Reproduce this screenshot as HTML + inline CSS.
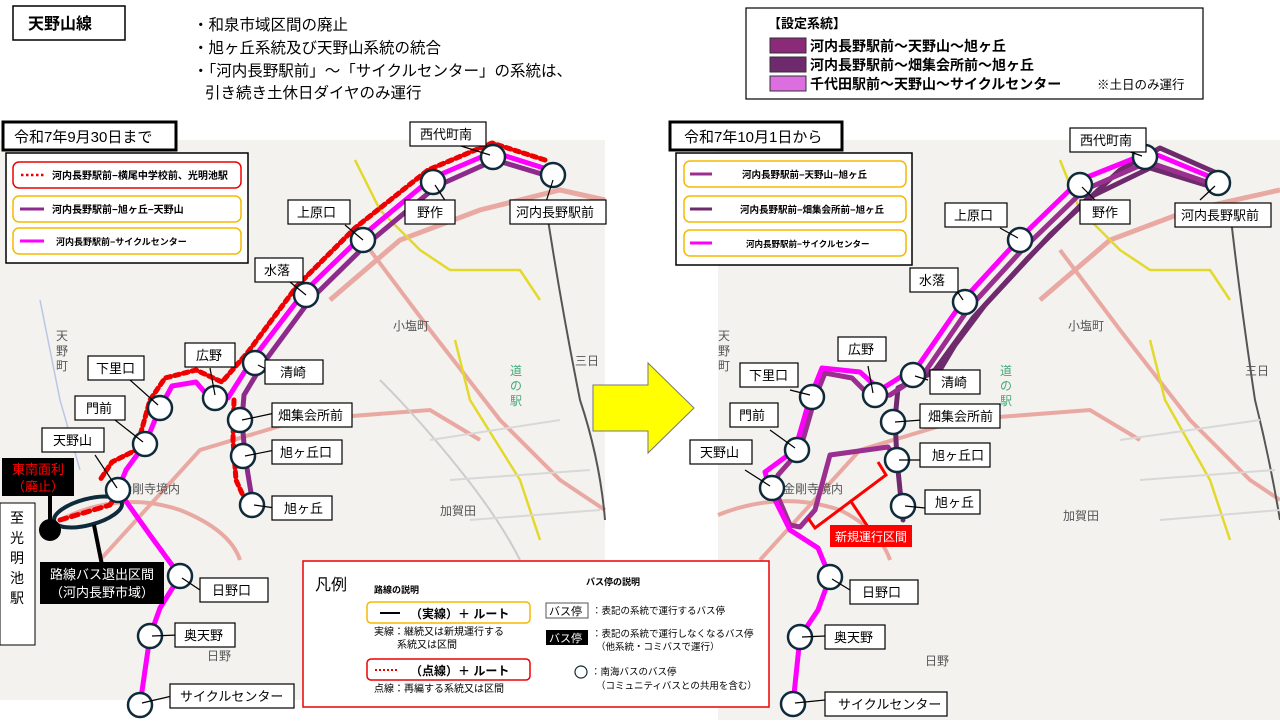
<!DOCTYPE html>
<html><head><meta charset="utf-8"><style>
body{margin:0;width:1280px;height:720px;background:#fff;overflow:hidden;font-family:"Liberation Sans","Noto Sans CJK JP",sans-serif;}
svg text{font-family:"Liberation Sans","Noto Sans CJK JP",sans-serif;}
</style></head><body>
<svg width="1280" height="720" viewBox="0 0 1280 720" xmlns="http://www.w3.org/2000/svg">
<defs>
<g id="stop"><circle r="12" fill="#fff" stroke="#0f2a3a" stroke-width="2.5"/></g>
</defs>
<rect x="0" y="140" width="605" height="560" fill="#f3f2ef"/>
<rect x="718" y="140" width="562" height="580" fill="#f3f2ef"/>
<g fill="none">
<path d="M330 300 L400 240 L480 210 L560 190 L605 200" stroke="#e9a9a2" stroke-width="5"/>
<path d="M370 250 L430 330 L500 420 L560 480 L605 510" stroke="#e9a9a2" stroke-width="4"/>
<path d="M100 560 L200 450 L300 420 L430 410 L480 440" stroke="#e9a9a2" stroke-width="4"/>
<path d="M60 520 Q120 490 180 510 Q230 530 240 560" stroke="#e9a9a2" stroke-width="4"/>
<path d="M355 160 L380 210 L420 250 L450 270 L520 270 L540 300" stroke="#e3d92a" stroke-width="2.5"/>
<path d="M455 340 L470 400 L520 480 L540 540" stroke="#e3d92a" stroke-width="2.5"/>
<path d="M545 200 Q560 300 580 400 Q600 460 605 520" stroke="#555" stroke-width="2"/>
<path d="M40 300 L60 400 L80 470" stroke="#b9c7e6" stroke-width="1.5"/>
<path d="M380 380 Q420 420 460 470 Q500 520 520 560" stroke="#ccc" stroke-width="2"/>
<path d="M430 440 L560 420 M450 480 L590 470 M470 520 L600 510" stroke="#d8d8d8" stroke-width="2"/>
</g>
<text x="393" y="330" font-size="12" fill="#555">小塩町</text>
<text x="440" y="515" font-size="12" fill="#555">加賀田</text>
<text x="207" y="660" font-size="12" fill="#555">日野</text>
<text x="120" y="493" font-size="12" fill="#555">金剛寺境内</text>
<text x="56" y="340" font-size="12" fill="#555">天</text><text x="56" y="355" font-size="12" fill="#555">野</text><text x="56" y="370" font-size="12" fill="#555">町</text>
<text x="510" y="375" font-size="12" fill="#4a7">道</text><text x="510" y="390" font-size="12" fill="#4a7">の</text><text x="510" y="405" font-size="12" fill="#4a7">駅</text>
<text x="575" y="365" font-size="12" fill="#555">三日</text>
<g fill="none" stroke-linejoin="round" stroke-linecap="round">
<path d="M555 178 L495 160 L437 186 L367 244 L310 300 L262 365 L244 395 L242 420 L245 456 L253 505" stroke="#8e2a8c" stroke-width="5"/>
<path d="M550 170 L493 152 L432 178 L362 236 L304 292 L252 360 L228 398 L213 402 L196 382 L172 386 L160 408 L145 444 L126 470 L118 490 L150 535 L180 576 L160 608 L150 636 L140 705" stroke="#ff00ff" stroke-width="5"/>
<path d="M545 160 L492 143 L428 170 L355 228 L297 286 L248 352 L222 382 L196 370 L165 378 L150 400 L136 450 L112 462 L100 480" stroke="#e00" stroke-width="5" stroke-dasharray="5 4"/>
<path d="M234 400 L233 440 L236 480 L245 500" stroke="#e00" stroke-width="5" stroke-dasharray="5 4"/>
<path d="M60 520 L110 505 L118 492" stroke="#e00" stroke-width="5" stroke-dasharray="7 5"/>
</g>
<ellipse cx="88" cy="512" rx="35" ry="13" transform="rotate(-15 88 512)" fill="none" stroke="#0f2a3a" stroke-width="4"/>
<line x1="94" y1="525" x2="102" y2="565" stroke="#000" stroke-width="4"/>
<line x1="50" y1="530" x2="50" y2="495" stroke="#000" stroke-width="4"/>
<circle cx="50" cy="530" r="11" fill="#000"/>
<g>
<use href="#stop" x="493" y="157"/><use href="#stop" x="433" y="182"/><use href="#stop" x="553" y="175"/>
<use href="#stop" x="363" y="240"/><use href="#stop" x="306" y="295"/><use href="#stop" x="255" y="363"/>
<use href="#stop" x="215" y="398"/><use href="#stop" x="160" y="408"/><use href="#stop" x="145" y="444"/>
<use href="#stop" x="118" y="490"/><use href="#stop" x="240" y="420"/><use href="#stop" x="243" y="456"/>
<use href="#stop" x="252" y="505"/><use href="#stop" x="180" y="576"/><use href="#stop" x="150" y="636"/>
<use href="#stop" x="140" y="705"/>
</g>
<g font-size="13" fill="#000" stroke-width="1.2">
<g stroke="#000"><line x1="448" y1="142" x2="490" y2="155"/><line x1="448" y1="205" x2="435" y2="185"/><line x1="545" y1="205" x2="553" y2="180"/><line x1="345" y1="225" x2="363" y2="240"/><line x1="290" y1="282" x2="306" y2="295"/><line x1="268" y1="370" x2="258" y2="365"/><line x1="210" y1="368" x2="215" y2="395"/><line x1="130" y1="380" x2="158" y2="405"/><line x1="115" y1="420" x2="143" y2="442"/><line x1="95" y1="455" x2="117" y2="488"/><line x1="275" y1="413" x2="242" y2="420"/><line x1="275" y1="450" x2="245" y2="456"/><line x1="275" y1="508" x2="254" y2="505"/><line x1="200" y1="590" x2="182" y2="578"/><line x1="178" y1="635" x2="152" y2="636"/><line x1="172" y1="696" x2="142" y2="703"/></g>
<rect x="410" y="122" width="76" height="24" fill="#fff" stroke="#000"/><text x="420" y="139">西代町南</text>
<rect x="405" y="200" width="50" height="24" fill="#fff" stroke="#000"/><text x="417" y="217">野作</text>
<rect x="510" y="200" width="96" height="24" fill="#fff" stroke="#000"/><text x="516" y="217">河内長野駅前</text>
<rect x="288" y="200" width="62" height="24" fill="#fff" stroke="#000"/><text x="297" y="217">上原口</text>
<rect x="255" y="258" width="48" height="24" fill="#fff" stroke="#000"/><text x="264" y="275">水落</text>
<rect x="265" y="360" width="58" height="24" fill="#fff" stroke="#000"/><text x="280" y="377">清崎</text>
<rect x="185" y="343" width="50" height="24" fill="#fff" stroke="#000"/><text x="196" y="360">広野</text>
<rect x="88" y="356" width="56" height="24" fill="#fff" stroke="#000"/><text x="96" y="373">下里口</text>
<rect x="75" y="396" width="50" height="24" fill="#fff" stroke="#000"/><text x="86" y="413">門前</text>
<rect x="42" y="428" width="62" height="24" fill="#fff" stroke="#000"/><text x="53" y="445">天野山</text>
<rect x="272" y="403" width="80" height="24" fill="#fff" stroke="#000"/><text x="278" y="420">畑集会所前</text>
<rect x="272" y="440" width="70" height="24" fill="#fff" stroke="#000"/><text x="280" y="457">旭ヶ丘口</text>
<rect x="272" y="496" width="60" height="24" fill="#fff" stroke="#000"/><text x="284" y="513">旭ヶ丘</text>
<rect x="200" y="578" width="68" height="24" fill="#fff" stroke="#000"/><text x="212" y="595">日野口</text>
<rect x="175" y="623" width="60" height="24" fill="#fff" stroke="#000"/><text x="184" y="640">奥天野</text>
<rect x="170" y="684" width="124" height="24" fill="#fff" stroke="#000"/><text x="180" y="701">サイクルセンター</text>
</g>
<rect x="2" y="458" width="72" height="38" fill="#000"/>
<text x="38" y="474" font-size="13" fill="#f00" text-anchor="middle">東南面利</text>
<text x="38" y="491" font-size="13" fill="#f00" text-anchor="middle">（廃止）</text>
<rect x="0" y="503" width="35" height="142" fill="#fff" stroke="#000"/>
<g font-size="14" fill="#000" text-anchor="middle"><text x="17" y="523">至</text><text x="17" y="543">光</text><text x="17" y="563">明</text><text x="17" y="583">池</text><text x="17" y="603">駅</text></g>
<rect x="40" y="562" width="124" height="42" fill="#000"/>
<text x="102" y="579" font-size="13" fill="#fff" text-anchor="middle">路線バス退出区間</text>
<text x="102" y="597" font-size="13" fill="#fff" text-anchor="middle">（河内長野市域）</text>
<rect x="3" y="122" width="173" height="28" fill="#fff" stroke="#000" stroke-width="3"/>
<text x="14" y="142" font-size="15">令和7年9月30日まで</text>
<rect x="6" y="153" width="242" height="110" fill="#fff" stroke="#000" stroke-width="1.5"/>
<rect x="13" y="162" width="228" height="26" rx="6" fill="#fff" stroke="#e00" stroke-width="1.5"/>
<line x1="21" y1="175" x2="44" y2="175" stroke="#e00" stroke-width="2.5" stroke-dasharray="2.5 2.5"/>
<text x="52" y="179" font-size="10" font-weight="bold">河内長野駅前−横尾中学校前、光明池駅</text>
<rect x="13" y="196" width="228" height="26" rx="6" fill="#fff" stroke="#f5b800" stroke-width="1.5"/>
<line x1="20" y1="209" x2="44" y2="209" stroke="#8e2a8c" stroke-width="3"/>
<text x="52" y="213" font-size="10" font-weight="bold">河内長野駅前−旭ヶ丘−天野山</text>
<rect x="13" y="228" width="228" height="26" rx="6" fill="#fff" stroke="#f5b800" stroke-width="1.5"/>
<line x1="20" y1="241" x2="44" y2="241" stroke="#ff00ff" stroke-width="3"/>
<text x="56" y="245" font-size="9" font-weight="bold">河内長野駅前−サイクルセンター</text>
<g fill="none">
<path d="M1040 300 L1110 240 L1190 210 L1280 190" stroke="#e9a9a2" stroke-width="5"/>
<path d="M1060 250 L1120 330 L1190 420 L1250 480 L1280 500" stroke="#e9a9a2" stroke-width="4"/>
<path d="M760 560 L860 450 L960 420 L1090 410 L1140 440" stroke="#e9a9a2" stroke-width="4"/>
<path d="M718 515 Q780 490 840 510 Q880 530 890 560" stroke="#e9a9a2" stroke-width="4"/>
<path d="M1060 160 L1080 210 L1120 250 L1150 270 L1210 270 L1230 300" stroke="#e3d92a" stroke-width="2.5"/>
<path d="M1150 340 L1165 400 L1210 480 L1230 540" stroke="#e3d92a" stroke-width="2.5"/>
<path d="M1230 210 Q1240 300 1255 400 Q1270 460 1280 520" stroke="#555" stroke-width="2"/>
<path d="M1120 440 L1260 420 M1140 480 L1275 470 M1160 520 L1280 510" stroke="#d8d8d8" stroke-width="2"/>
</g>
<text x="1068" y="330" font-size="12" fill="#555">小塩町</text>
<text x="1063" y="520" font-size="12" fill="#555">加賀田</text>
<text x="925" y="665" font-size="12" fill="#555">日野</text>
<text x="783" y="493" font-size="12" fill="#555">金剛寺境内</text>
<text x="718" y="340" font-size="12" fill="#555">天</text><text x="718" y="355" font-size="12" fill="#555">野</text><text x="718" y="370" font-size="12" fill="#555">町</text>
<text x="1000" y="375" font-size="12" fill="#4a7">道</text><text x="1000" y="390" font-size="12" fill="#4a7">の</text><text x="1000" y="405" font-size="12" fill="#4a7">駅</text>
<text x="1245" y="375" font-size="12" fill="#555">三日</text>
<g fill="none" stroke-linejoin="round" stroke-linecap="round">
<path d="M1222 190 L1150 168 L1088 198 L1028 258 L973 318 L935 370 L898 388 L895 420 L897 460 L903 520" stroke="#6e2a6c" stroke-width="5"/>
<path d="M1228 178 L1160 148 L1120 170 L1050 235 L985 305 L955 345 L940 370 L920 378" stroke="#6e2a6c" stroke-width="5"/>
<path d="M1218 186 L1148 162 L1084 190 L1024 248 L969 308 L925 372 L890 395 L872 398 L852 378 L825 373 L815 398 L800 450 L778 475 L775 490 L790 525 L800 527 L815 510 L830 455 L888 447 L897 460" stroke="#9b2f8f" stroke-width="5"/>
<path d="M1218 180 L1150 152 L1080 180 L1020 238 L965 298 L918 366 L880 390 L860 372 L822 368 L810 398 L795 450 L765 472 L770 490 L790 530 L818 548 L830 577 L818 610 L800 637 L793 704" stroke="#ff00ff" stroke-width="5"/>
</g>
<g fill="none" stroke="#f00" stroke-width="3"><path d="M878 462 L886 475 L815 528 L808 518"/><line x1="850" y1="500" x2="870" y2="530"/></g>
<rect x="830" y="525" width="82" height="22" fill="#f00"/>
<text x="871" y="541" font-size="12" fill="#fff" text-anchor="middle">新規運行区間</text>
<g>
<use href="#stop" x="1145" y="157"/><use href="#stop" x="1080" y="185"/><use href="#stop" x="1218" y="183"/>
<use href="#stop" x="1020" y="240"/><use href="#stop" x="965" y="302"/><use href="#stop" x="913" y="375"/>
<use href="#stop" x="875" y="395"/><use href="#stop" x="812" y="397"/><use href="#stop" x="797" y="450"/>
<use href="#stop" x="772" y="488"/><use href="#stop" x="893" y="422"/><use href="#stop" x="897" y="460"/>
<use href="#stop" x="903" y="506"/><use href="#stop" x="830" y="577"/><use href="#stop" x="800" y="637"/>
<use href="#stop" x="793" y="704"/>
</g>
<g font-size="13" fill="#000" stroke-width="1.2">
<g stroke="#000"><line x1="1110" y1="145" x2="1142" y2="156"/><line x1="1095" y1="200" x2="1082" y2="187"/><line x1="1200" y1="200" x2="1215" y2="186"/><line x1="1000" y1="228" x2="1018" y2="238"/><line x1="955" y1="288" x2="963" y2="300"/><line x1="928" y1="380" x2="915" y2="376"/><line x1="868" y1="366" x2="873" y2="393"/><line x1="790" y1="390" x2="810" y2="395"/><line x1="770" y1="430" x2="795" y2="448"/><line x1="745" y1="470" x2="770" y2="486"/><line x1="922" y1="420" x2="895" y2="422"/><line x1="922" y1="460" x2="899" y2="460"/><line x1="925" y1="508" x2="905" y2="506"/><line x1="850" y1="590" x2="832" y2="579"/><line x1="825" y1="636" x2="802" y2="637"/><line x1="825" y1="700" x2="795" y2="703"/></g>
<rect x="1070" y="128" width="76" height="24" fill="#fff" stroke="#000"/><text x="1080" y="145">西代町南</text>
<rect x="1080" y="200" width="50" height="24" fill="#fff" stroke="#000"/><text x="1092" y="217">野作</text>
<rect x="1175" y="203" width="96" height="24" fill="#fff" stroke="#000"/><text x="1181" y="220">河内長野駅前</text>
<rect x="945" y="203" width="62" height="24" fill="#fff" stroke="#000"/><text x="954" y="220">上原口</text>
<rect x="910" y="268" width="48" height="24" fill="#fff" stroke="#000"/><text x="919" y="285">水落</text>
<rect x="930" y="370" width="50" height="24" fill="#fff" stroke="#000"/><text x="941" y="387">清崎</text>
<rect x="838" y="337" width="48" height="24" fill="#fff" stroke="#000"/><text x="848" y="354">広野</text>
<rect x="740" y="363" width="58" height="24" fill="#fff" stroke="#000"/><text x="749" y="380">下里口</text>
<rect x="730" y="403" width="48" height="24" fill="#fff" stroke="#000"/><text x="739" y="420">門前</text>
<rect x="690" y="440" width="62" height="24" fill="#fff" stroke="#000"/><text x="700" y="457">天野山</text>
<rect x="920" y="404" width="80" height="24" fill="#fff" stroke="#000"/><text x="928" y="421">畑集会所前</text>
<rect x="920" y="443" width="70" height="24" fill="#fff" stroke="#000"/><text x="932" y="460">旭ヶ丘口</text>
<rect x="925" y="490" width="55" height="24" fill="#fff" stroke="#000"/><text x="935" y="507">旭ヶ丘</text>
<rect x="850" y="580" width="68" height="24" fill="#fff" stroke="#000"/><text x="862" y="597">日野口</text>
<rect x="825" y="625" width="60" height="24" fill="#fff" stroke="#000"/><text x="834" y="642">奥天野</text>
<rect x="825" y="692" width="122" height="24" fill="#fff" stroke="#000"/><text x="838" y="709">サイクルセンター</text>
</g>
<rect x="670" y="122" width="172" height="28" fill="#fff" stroke="#000" stroke-width="3"/>
<text x="684" y="142" font-size="15">令和7年10月1日から</text>
<rect x="676" y="153" width="236" height="112" fill="#fff" stroke="#000" stroke-width="1.5"/>
<rect x="684" y="161" width="222" height="26" rx="6" fill="#fff" stroke="#f5b800" stroke-width="1.5"/>
<line x1="690" y1="174" x2="712" y2="174" stroke="#9b2f8f" stroke-width="3"/>
<text x="742" y="178" font-size="9.5" font-weight="bold">河内長野駅前−天野山−旭ヶ丘</text>
<rect x="684" y="196" width="222" height="26" rx="6" fill="#fff" stroke="#f5b800" stroke-width="1.5"/>
<line x1="690" y1="209" x2="712" y2="209" stroke="#6e2a6c" stroke-width="3"/>
<text x="740" y="213" font-size="9.5" font-weight="bold">河内長野駅前−畑集会所前−旭ヶ丘</text>
<rect x="684" y="230" width="222" height="26" rx="6" fill="#fff" stroke="#f5b800" stroke-width="1.5"/>
<line x1="690" y1="243" x2="712" y2="243" stroke="#ff00ff" stroke-width="3"/>
<text x="746" y="247" font-size="8.5" font-weight="bold">河内長野駅前−サイクルセンター</text>
<polygon points="593,385 648,385 648,363 694,408 648,453 648,431 593,431" fill="#ffff00" stroke="#777" stroke-width="1"/>
<rect x="303" y="561" width="466" height="146" fill="#fff" stroke="#e00" stroke-width="1.5"/>
<text x="315" y="590" font-size="16">凡例</text>
<text x="374" y="593" font-size="9" font-weight="bold">路線の説明</text>
<text x="586" y="585" font-size="9" font-weight="bold">バス停の説明</text>
<rect x="367" y="602" width="163" height="21" rx="4" fill="#fff" stroke="#f5b800" stroke-width="1.5"/>
<line x1="380" y1="613" x2="400" y2="613" stroke="#000" stroke-width="2"/>
<text x="410" y="618" font-size="12" font-weight="bold">（実線）＋ ルート</text>
<text x="374" y="635" font-size="10">実線：継続又は新規運行する</text>
<text x="397" y="648" font-size="10">系統又は区間</text>
<rect x="367" y="659" width="163" height="21" rx="4" fill="#fff" stroke="#e00" stroke-width="1.5"/>
<line x1="375" y1="670" x2="397" y2="670" stroke="#e00" stroke-width="2" stroke-dasharray="2 2"/>
<text x="410" y="675" font-size="12" font-weight="bold">（点線）＋ ルート</text>
<text x="374" y="692" font-size="10">点線：再編する系統又は区間</text>
<rect x="546" y="603" width="42" height="15" fill="#fff" stroke="#555"/>
<text x="549" y="615" font-size="11">バス停</text>
<text x="592" y="614" font-size="9.5">：表記の系統で運行するバス停</text>
<rect x="546" y="630" width="42" height="15" fill="#000"/>
<text x="549" y="642" font-size="11" fill="#fff">バス停</text>
<text x="592" y="637" font-size="9.5">：表記の系統で運行しなくなるバス停</text>
<text x="596" y="650" font-size="9.5">（他系統・コミバスで運行）</text>
<circle cx="581" cy="672" r="6" fill="#fff" stroke="#0f2a3a" stroke-width="1.2"/>
<text x="591" y="675" font-size="9.5">：南海バスのバス停</text>
<text x="596" y="689" font-size="9.5">（コミュニティバスとの共用を含む）</text>
<rect x="13" y="6" width="112" height="34" fill="#fff" stroke="#000" stroke-width="1.5"/>
<text x="28" y="29" font-size="16" font-weight="bold">天野山線</text>
<g font-size="15.5">
<text x="193" y="30">・和泉市域区間の廃止</text>
<text x="193" y="53">・旭ヶ丘系統及び天野山系統の統合</text>
<text x="193" y="76">・「河内長野駅前」～「サイクルセンター」の系統は、</text>
<text x="205" y="98">引き続き土休日ダイヤのみ運行</text>
</g>
<rect x="746" y="8" width="457" height="91" fill="#fff" stroke="#000" stroke-width="1.2"/>
<text x="768" y="28" font-size="13" font-weight="bold">【設定系統】</text>
<rect x="770" y="38" width="36" height="15" fill="#8b2a78" stroke="#333"/>
<text x="810" y="51" font-size="14" font-weight="bold">河内長野駅前～天野山～旭ヶ丘</text>
<rect x="770" y="57" width="36" height="15" fill="#6e2a6c" stroke="#333"/>
<text x="810" y="70" font-size="14" font-weight="bold">河内長野駅前～畑集会所前～旭ヶ丘</text>
<rect x="770" y="76" width="36" height="15" fill="#dd6ee0" stroke="#333"/>
<text x="810" y="89" font-size="14" font-weight="bold">千代田駅前～天野山～サイクルセンター</text>
<text x="1097" y="89" font-size="12.5">※土日のみ運行</text>
</svg>
</body></html>
